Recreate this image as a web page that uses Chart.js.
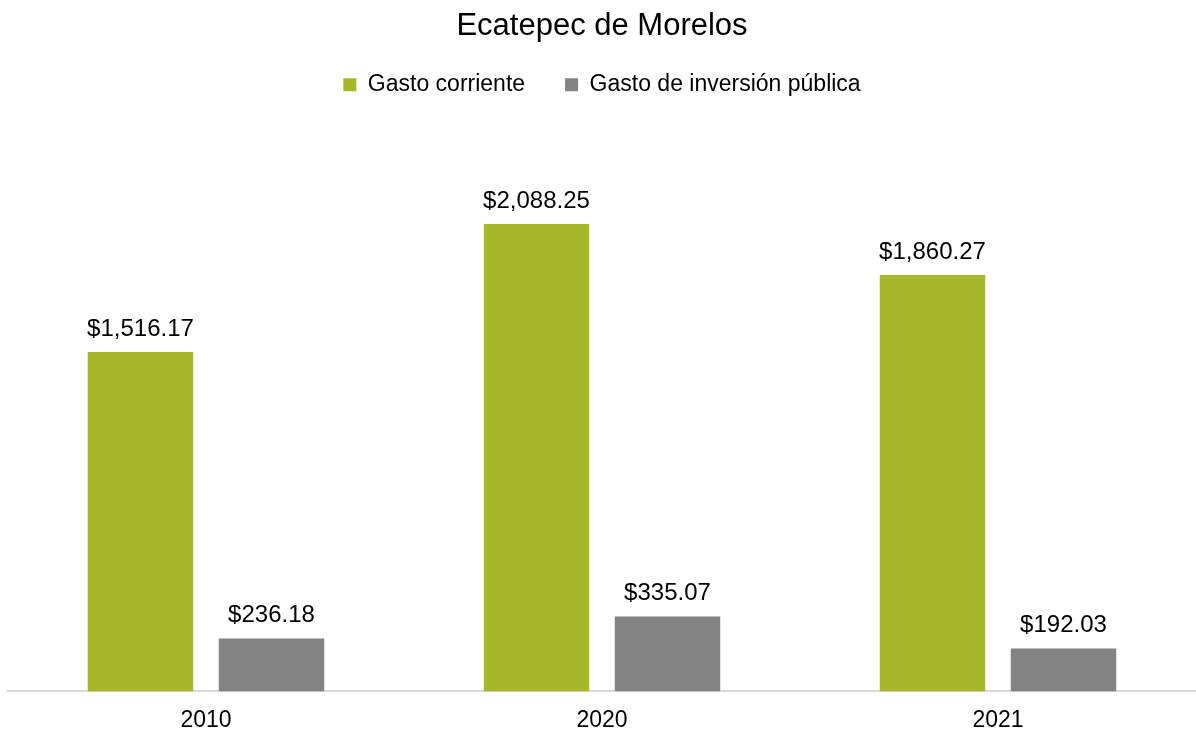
<!DOCTYPE html>
<html>
<head>
<meta charset="utf-8">
<script src="https://cdn.jsdelivr.net/npm/chart.js@4.4.0/dist/chart.umd.min.js"></script>
<style>
    html, body { margin: 0; padding: 0; background: #fff; }
    #wrap { width: 1196px; height: 733px; }
</style>
</head>
<body>
<div id="wrap"><canvas id="chart"></canvas></div>
<script>
const years = ["2010", "2020", "2021"];
const gastoCorriente = [1516.17, 2088.25, 1860.27];
const gastoInversion = [236.18, 335.07, 192.03];

const fontFamily = "'Liberation Sans', Arial, sans-serif";

// etiquetas de valor encima de cada barra
const valueLabels = {
    id: "valueLabels",
    afterDatasetsDraw(chart) {
        const ctx = chart.ctx;
        ctx.save();
        ctx.font = "24px " + fontFamily;
        ctx.fillStyle = "#000";
        ctx.textAlign = "center";
        ctx.textBaseline = "middle";
        chart.data.datasets.forEach((ds, i) => {
            chart.getDatasetMeta(i).data.forEach((bar, j) => {
                const txt = "$" + ds.data[j].toLocaleString("en-US", { minimumFractionDigits: 2, maximumFractionDigits: 2 });
                ctx.fillText(txt, bar.x, bar.y - 23);
            });
        });
        ctx.restore();
    }
};

new Chart(document.getElementById("chart"), {
    type: "bar",
    data: {
        labels: years,
        datasets: [
            { label: "Gasto corriente", data: gastoCorriente, backgroundColor: "#A7B82A" },
            { label: "Gasto de inversión pública", data: gastoInversion, backgroundColor: "#838383" }
        ]
    },
    options: {
        responsive: true,
        maintainAspectRatio: false,
        animation: false,
        categoryPercentage: 0.6616,
        barPercentage: 0.805,
        layout: { padding: { left: 8, right: 0, top: 6, bottom: -16 } },
        plugins: {
            title: {
                display: true,
                text: "Ecatepec de Morelos",
                color: "#000",
                font: { family: fontFamily, size: 31, weight: "normal" },
                padding: { top: 2, bottom: -12 }
            },
            legend: {
                labels: {
                    color: "#000",
                    font: { family: fontFamily, size: 23 },
                    usePointStyle: true,
                    pointStyle: "rect",
                    boxWidth: 13,
                    boxHeight: 13,
                    padding: 40
                }
            },
            tooltip: { enabled: false }
        },
        scales: {
            x: {
                grid: { display: false, drawTicks: false },
                border: { color: "#D9D9D9", width: 2 },
                ticks: { color: "#000", font: { family: fontFamily, size: 23 }, padding: 15 }
            },
            y: {
                display: false,
                min: 0,
                max: 2615
            }
        }
    },
    plugins: [valueLabels]
});
</script>
</body>
</html>
